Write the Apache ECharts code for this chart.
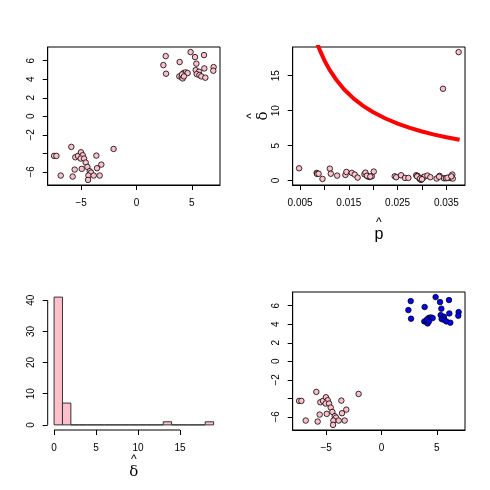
<!DOCTYPE html>
<html>
<head>
<meta charset="utf-8">
<script src="https://cdn.jsdelivr.net/npm/echarts@6/dist/echarts.min.js"></script>
<style>
  html, body { margin: 0; padding: 0; background: #fff; }
  #chart { width: 490px; height: 490px; }
</style>
</head>
<body>
<div id="chart"></div>
<script>
// cluster A (lower left) and cluster B (upper right)
var xA = [-7.45, -7.24, -6.85, -5.89, -5.77, -5.59, -5.53, -5.29, -5.02, -4.86, -5.05, -4.74, -4.95,
          -4.59, -4.44, -4.23, -4.11, -4.35, -4.38, -3.87, -3.63, -3.57, -3.33, -3.18, -2.07];
var yA = [-4.27, -4.27, -6.39, -3.30, -6.50, -5.75, -4.42, -4.27, -3.88, -4.20, -4.56, -4.56, -5.67,
          -4.99, -5.46, -5.92, -6.07, -6.39, -6.86, -6.39, -4.24, -5.60, -6.39, -5.21, -3.52];
var xB = [2.64, 2.43, 2.67, 3.90, 4.89, 5.29, 6.10, 5.41, 6.13, 5.35, 6.97, 6.94, 5.65,
          5.44, 5.68, 5.86, 6.22, 3.87, 4.08, 4.17, 4.26, 4.44, 4.62, 4.11, 4.29];
var yB = [6.50, 5.53, 4.60, 5.86, 6.93, 6.39, 6.61, 5.68, 5.17, 4.99, 5.31, 4.92, 4.81,
          4.56, 4.45, 4.31, 4.17, 4.31, 4.27, 4.09, 4.67, 4.74, 4.67, 4.52, 4.31];

// p-hat vs delta-hat
var pHat = [0.0048, 0.0084, 0.0085, 0.0096, 0.0111, 0.0113, 0.0126, 0.0143, 0.0145, 0.0156,
            0.0162, 0.0168, 0.0182, 0.0184, 0.0188, 0.0192, 0.0197, 0.0201, 0.0244, 0.0247,
            0.0257, 0.0265, 0.0272, 0.0288, 0.0291, 0.0295, 0.0298, 0.0302, 0.0305, 0.0311,
            0.0317, 0.0330, 0.0336, 0.0345, 0.0349, 0.0355, 0.0358, 0.0362, 0.0363, 0.0343,
            0.0375, 0.0187, 0.0194, 0.0290, 0.0296, 0.0300, 0.0335, 0.0352, 0.0360, 0.0088];
var dHat = [1.76, 1.10, 0.95, 0.24, 1.71, 0.98, 0.71, 0.81, 1.24, 1.10,
            0.86, 0.43, 0.90, 1.14, 0.62, 0.52, 0.62, 1.29, 0.62, 0.48,
            0.76, 0.38, 0.38, 0.76, 0.67, 0.24, 0.10, 0.43, 0.57, 0.71,
            0.48, 0.29, 0.67, 0.33, 0.33, 0.43, 0.38, 0.86, 0.29, 13.14,
            18.38, 0.70, 0.58, 0.60, 0.30, 0.20, 0.55, 0.40, 0.60, 0.98];

// threshold curve
var pCurve = [0.0085, 0.0090, 0.0100, 0.0110, 0.0125, 0.0140, 0.0160, 0.0180, 0.0200, 0.0225,
              0.0250, 0.0275, 0.0300, 0.0325, 0.0350, 0.0377];
var dCurve = [19.63, 18.74, 17.19, 15.91, 14.34, 13.07, 11.72, 10.65, 9.77, 8.88,
              8.15, 7.54, 7.02, 6.58, 6.19, 5.83];

// histogram of delta-hat
var histBreaks = [0, 1, 2, 3, 4, 5, 6, 7, 8, 9, 10, 11, 12, 13, 14, 15, 16, 17, 18, 19];
var histCounts = [41, 7, 0, 0, 0, 0, 0, 0, 0, 0, 0, 0, 0, 1, 0, 0, 0, 0, 1];

var clusterTicks = [-6, -4, -2, 0, 2, 4, 6];
var clusterYLabels = [-6, -2, 0, 2, 4, 6];
var clusterXTicks = [-5, 0, 5];
var pTicks = [0.005, 0.010, 0.015, 0.020, 0.025, 0.030, 0.035];
var pLabels = [0.005, 0.015, 0.025, 0.035];
var dTicks = [0, 5, 10, 15];
var hxTicks = [0, 5, 10, 15];
var hyTicks = [0, 10, 20, 30, 40];

function rng(arr) {
  var lo = Math.min.apply(null, arr), hi = Math.max.apply(null, arr);
  var r = hi - lo;
  return [lo - 0.04 * r, hi + 0.04 * r];
}
function zip(a, b) {
  return a.map(function (v, i) { return [v, b[i]]; });
}
function minus(v) { return String(v).replace('-', '\u2212'); }

var FONT = 'Liberation Sans';

function axis(gi, range, ticks, labels, fmt, isY, boxed) {
  return {
    type: 'value', gridIndex: gi, min: range[0], max: range[1],
    splitLine: { show: false },
    axisLine: { show: boxed, onZero: false, lineStyle: { color: '#000', width: 1 } },
    axisTick: { show: true, length: 5, customValues: ticks, lineStyle: { color: '#000', width: 1 } },
    axisLabel: {
      customValues: labels, formatter: fmt, color: '#000', fontSize: 10, fontFamily: FONT,
      margin: isY ? 11 : 13, rotate: isY ? 90 : 0
    }
  };
}

var cx = rng(xA.concat(xB)), cy = rng(yA.concat(yB));
var px = rng(pHat), py = rng(dHat);
var hx = rng([histBreaks[0], histBreaks[histBreaks.length - 1]]);
var hy = rng([0, Math.max.apply(null, histCounts)]);

var grids = [
  { left: 47.7, top: 47, width: 172.3, height: 138 },
  { left: 292.7, top: 47, width: 172.3, height: 138 },
  { left: 47.7, top: 292, width: 172.3, height: 138 },
  { left: 292.7, top: 292, width: 172.3, height: 138 }
].map(function (g, i) {
  return Object.assign({ show: i !== 2, borderColor: '#000', borderWidth: 1, backgroundColor: 'transparent' }, g);
});

var hatRich = {
  h: { fontFamily: FONT, fontSize: 12, color: '#000', lineHeight: 9 },
  g: { fontFamily: 'DejaVu Serif', fontSize: 15, color: '#000', lineHeight: 15 },
  s: { fontFamily: FONT, fontSize: 16, color: '#000', lineHeight: 15 }
};

var xAxes = [
  axis(0, cx, clusterXTicks, clusterXTicks, minus, false, true),
  Object.assign(axis(1, px, pTicks, pLabels, function (v) { return v.toFixed(3); }, false, true), {
    name: '{h|^}\n{s|p}', nameLocation: 'middle', nameGap: 33,
    nameTextStyle: { rich: hatRich }
  }),
  Object.assign(axis(2, hx, hxTicks, hxTicks, minus, false, false), {
    name: '{h|^}\n{g|\u03b4}', nameLocation: 'middle', nameGap: 25,
    nameTextStyle: { rich: hatRich }
  }),
  axis(3, cx, clusterXTicks, clusterXTicks, minus, false, true)
];
var yAxes = [
  axis(0, cy, clusterTicks, clusterYLabels, minus, true, true),
  Object.assign(axis(1, py, dTicks, dTicks, minus, true, true), {
    name: '{h|^}\n{g|\u03b4}', nameLocation: 'middle', nameGap: 22, nameRotate: 90,
    nameTextStyle: { rich: hatRich }
  }),
  axis(2, hy, hyTicks, hyTicks, minus, true, false),
  axis(3, cy, clusterTicks, clusterYLabels, minus, true, true)
];

function pts(name, gi, xs, ys, color) {
  return {
    name: name, type: 'scatter', xAxisIndex: gi, yAxisIndex: gi,
    data: zip(xs, ys), symbol: 'circle', symbolSize: 5.5,
    itemStyle: { color: color, borderColor: '#000', borderWidth: 0.8, opacity: 1 }
  };
}

var histData = histCounts.map(function (c, i) { return [histBreaks[i], histBreaks[i + 1], c]; });

var series = [
  pts('A1', 0, xA, yA, '#FFC0CB'),
  pts('B1', 0, xB, yB, '#FFC0CB'),
  pts('pd', 1, pHat, dHat, '#FFC0CB'),
  {
    type: 'line', xAxisIndex: 1, yAxisIndex: 1, data: zip(pCurve, dCurve),
    symbol: 'none', smooth: false, clip: true, z: 1,
    lineStyle: { color: '#FF0000', width: 4 }
  },
  {
    type: 'custom', xAxisIndex: 2, yAxisIndex: 2, data: histData,
    encode: { x: [0, 1], y: 2 },
    renderItem: function (params, api) {
      var a = api.coord([api.value(0), 0]);
      var b = api.coord([api.value(1), api.value(2)]);
      return {
        type: 'rect',
        shape: { x: a[0], y: b[1], width: b[0] - a[0], height: a[1] - b[1] },
        style: { fill: '#FFC0CB', stroke: '#333', lineWidth: 1 }
      };
    }
  },
  // R-style axis lines for the histogram (only spanning the ticks)
  {
    type: 'line', xAxisIndex: 2, yAxisIndex: 2, clip: false, symbol: 'none', silent: true,
    data: [[hxTicks[0], hy[0]], [hxTicks[hxTicks.length - 1], hy[0]]],
    lineStyle: { color: '#000', width: 1 }
  },
  {
    type: 'line', xAxisIndex: 2, yAxisIndex: 2, clip: false, symbol: 'none', silent: true,
    data: [[hx[0], hyTicks[0]], [hx[0], hyTicks[hyTicks.length - 1]]],
    lineStyle: { color: '#000', width: 1 }
  },
  pts('A4', 3, xA, yA, '#FFC0CB'),
  pts('B4', 3, xB, yB, '#0000FF')
];

var chart = echarts.init(document.getElementById('chart'), null, { renderer: 'canvas' });
chart.setOption({
  animation: false,
  backgroundColor: '#fff',
  grid: grids,
  xAxis: xAxes,
  yAxis: yAxes,
  series: series
});
</script>
</body>
</html>
